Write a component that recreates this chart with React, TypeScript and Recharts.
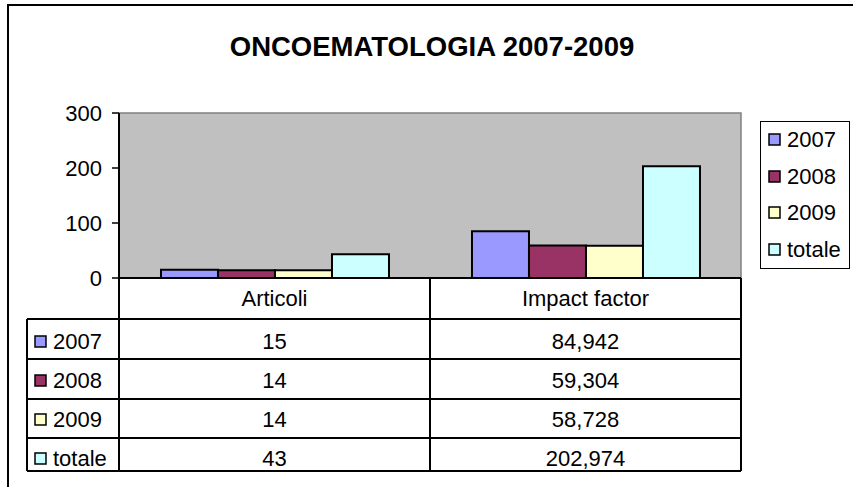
import React from 'react';
import { BarChart, Bar, XAxis, YAxis, CartesianGrid, ReferenceArea, Legend } from 'recharts';

// dati
const categories = ['Articoli', 'Impact factor'];
const seriesNames = ['2007', '2008', '2009', 'totale'];
const values2007 = [15, 84.942];
const values2008 = [14, 59.304];
const values2009 = [14, 58.728];
const valuesTotale = [43, 202.974];
const yTicks = [0, 100, 200, 300];
const colors = ['#9999FF', '#993366', '#FFFFCC', '#CCFFFF'];

const seriesValues = [values2007, values2008, values2009, valuesTotale];

const data = categories.map((name, i) => {
  const row: Record<string, any> = { name };
  seriesNames.forEach((s, j) => {
    row[s] = seriesValues[j][i];
  });
  return row;
});

const FONT = '"Liberation Sans", Arial, sans-serif';
const W = 853;
const H = 487;
const MARGIN = { top: 113, right: 112, bottom: 16, left: 0 };
const Y_AXIS_W = 119;
const TABLE_H = 193;
const BAND = (W - MARGIN.right - Y_AXIS_W) / categories.length;
const LABEL_COL_W = 92;
// bordi riga della tabella (dall'alto dell'asse X)
const ROW_LINES = [41, 81, 121, 160, 193];
const ROW_TEXT = [20, 63, 102, 141, 180];

const fmt = (v: number) => String(v).replace('.', ',');

const TableTick = (props: any) => {
  const { x, y, payload, index } = props;
  const left = x - BAND / 2;
  const right = x + BAND / 2;
  const col = seriesValues.map((vals) => vals[index]);
  return (
    <g fontFamily={FONT} fontSize={22} fill="#000">
      <line x1={left} y1={y} x2={left} y2={y + TABLE_H} stroke="#000" strokeWidth={2} />
      <line x1={right} y1={y} x2={right} y2={y + TABLE_H} stroke="#000" strokeWidth={2} />
      {ROW_LINES.map((ry) => (
        <line key={ry} x1={left} y1={y + ry} x2={right} y2={y + ry} stroke="#000" strokeWidth={2} />
      ))}
      <text x={x} y={y + ROW_TEXT[0]} dy="0.35em" textAnchor="middle" fill="#000">
        {payload.value}
      </text>
      {col.map((v, i) => (
        <text key={i} x={x} y={y + ROW_TEXT[i + 1]} dy="0.35em" textAnchor="middle" fill="#000">
          {fmt(v)}
        </text>
      ))}
      {index === 0 && (
        <g>
          <line x1={left - LABEL_COL_W} y1={y + ROW_LINES[0]} x2={left - LABEL_COL_W} y2={y + TABLE_H} stroke="#000" strokeWidth={2} />
          {ROW_LINES.map((ry) => (
            <line key={ry} x1={left - LABEL_COL_W} y1={y + ry} x2={left} y2={y + ry} stroke="#000" strokeWidth={2} />
          ))}
          {seriesNames.map((s, i) => (
            <g key={s}>
              <rect
                x={left - LABEL_COL_W + 8}
                y={y + ROW_TEXT[i + 1] - 5}
                width={11}
                height={11}
                fill={colors[i]}
                stroke="#000"
                strokeWidth={1.5}
              />
              <text x={left - LABEL_COL_W + 26} y={y + ROW_TEXT[i + 1]} dy="0.35em" fill="#000">
                {s}
              </text>
            </g>
          ))}
        </g>
      )}
    </g>
  );
};

const renderLegend = () => (
  <div
    style={{
      boxSizing: 'border-box',
      width: 90,
      height: 148,
      border: '1.5px solid #000',
      background: '#fff',
      fontFamily: FONT,
      fontSize: 22,
      color: '#000',
    }}
  >
    {seriesNames.map((s, i) => (
      <div key={s} style={{ height: 36.5, display: 'flex', alignItems: 'center', paddingLeft: 7 }}>
        <svg width={14} height={14} style={{ marginRight: 5 }}>
          <rect x={1} y={1} width={11} height={11} fill={colors[i]} stroke="#000" strokeWidth={1.5} />
        </svg>
        <span>{s}</span>
      </div>
    ))}
  </div>
);

export default function App() {
  return (
    <div style={{ position: 'absolute', left: 0, top: 0, width: W, height: H, overflow: 'hidden', background: '#fff' }}>
      <div
        style={{
          position: 'absolute',
          left: 7,
          top: 4,
          width: 900,
          height: 600,
          border: '2px solid #000',
        }}
      />
      <div
        style={{
          position: 'absolute',
          left: 0,
          top: 33,
          width: 864,
          textAlign: 'center',
          fontFamily: FONT,
          fontWeight: 'bold',
          fontSize: 27.5,
          lineHeight: '27px',
          color: '#000',
        }}
      >
        ONCOEMATOLOGIA 2007-2009
      </div>
      <div style={{ position: 'absolute', left: 0, top: 0 }}>
        <BarChart width={W} height={H} data={data} margin={MARGIN} barCategoryGap="13.5%" barGap={0}>
          <CartesianGrid horizontal={false} vertical={false} fill="#C0C0C0" fillOpacity={1} />
          <ReferenceArea y1={0} y2={300} fill="#C0C0C0" fillOpacity={1} stroke="#808080" strokeWidth={1.5} />
          <XAxis
            dataKey="name"
            height={TABLE_H}
            interval={0}
            tickLine={false}
            tickSize={0}
            tickMargin={0}
            axisLine={{ stroke: '#000', strokeWidth: 2 }}
            tick={<TableTick />}
          />
          <YAxis
            width={Y_AXIS_W}
            domain={[0, 300]}
            ticks={yTicks}
            interval={0}
            tickSize={7}
            tickMargin={10}
            axisLine={{ stroke: '#000', strokeWidth: 2 }}
            tickLine={{ stroke: '#000', strokeWidth: 1.5 }}
            tick={{ fill: '#000', fontSize: 22, fontFamily: FONT }}
          />
          <Legend
            layout="vertical"
            align="center"
            verticalAlign="middle"
            content={renderLegend}
            wrapperStyle={{ position: 'absolute', left: 760, top: 121, width: 90, height: 148 }}
          />
          {seriesNames.map((s, i) => (
            <Bar
              key={s}
              dataKey={s}
              fill={colors[i]}
              stroke="#000"
              strokeWidth={2}
              isAnimationActive={false}
            />
          ))}
        </BarChart>
      </div>
    </div>
  );
}
